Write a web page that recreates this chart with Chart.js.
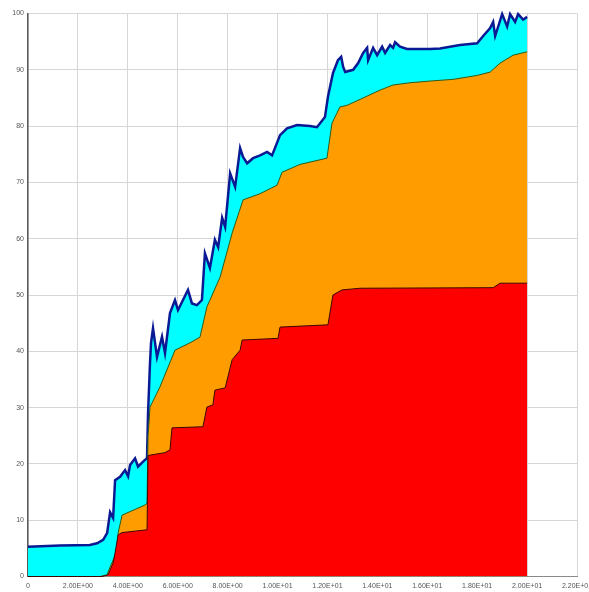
<!DOCTYPE html>
<html>
<head>
<meta charset="utf-8">
<script src="https://cdn.jsdelivr.net/npm/chart.js@4"></script>
<style>
  html, body { margin: 0; padding: 0; background: #fff; }
  #wrap { width: 589px; height: 592px; }
</style>
</head>
<body>
<div id="wrap"><canvas id="chart"></canvas></div>
<script>
// axis ticks
const xTicks = [0, 2, 4, 6, 8, 10, 12, 14, 16, 18, 20, 22]
const yTicks = [0, 10, 20, 30, 40, 50, 60, 70, 80, 90, 100]

// top series (cyan band, dark blue outline) - cumulative upper edge
const topX = [0, 1.28, 2.48, 2.77, 3.01, 3.17, 3.29, 3.41, 3.49, 3.69, 3.89, 4.01, 4.09, 4.29, 4.41, 4.61, 4.77,
  4.81, 4.89, 4.93, 5.01, 5.17, 5.37, 5.49, 5.69, 5.89, 6.01, 6.21, 6.41, 6.57, 6.77, 6.97, 7.09, 7.29, 7.49,
  7.62, 7.78, 7.9, 8.1, 8.3, 8.5, 8.62, 8.78, 9.02, 9.3, 9.58, 9.78, 10.1, 10.38, 10.78, 11.3, 11.58, 11.9,
  12.02, 12.22, 12.42, 12.55, 12.63, 12.71, 13.03, 13.23, 13.43, 13.59, 13.63, 13.83, 13.99, 14.19, 14.31,
  14.51, 14.63, 14.71, 14.91, 15.19, 16.11, 16.51, 17.31, 18.0, 18.24, 18.52, 18.64, 18.72, 19.0, 19.2,
  19.32, 19.52, 19.64, 19.84, 20]
const topY = [5.3, 5.5, 5.6, 5.9, 6.5, 7.7, 11.4, 10.4, 17.1, 17.7, 18.9, 17.8, 19.8, 21, 19.5, 20.4, 21,
  29, 38, 41.5, 44.1, 39, 42.6, 39.7, 46.8, 49.1, 47.3, 49.1, 50.9, 48.5, 48.2, 49.1, 57.4, 54.8, 59.8,
  58.5, 63.7, 62.1, 71.6, 69.2, 76.1, 74.5, 73.4, 74.3, 74.8, 75.4, 74.8, 78.4, 79.6, 80.2, 80, 79.8, 81.6,
  85.2, 89.4, 91.7, 92.3, 90.5, 89.6, 90, 91.2, 93, 93.9, 91.7, 93.9, 92.6, 94.1, 93,
  94.4, 93.9, 94.9, 94.1, 93.7, 93.7, 93.8, 94.4, 94.7, 96, 97.4, 98.5, 96, 99.9, 97.7,
  99.9, 98.5, 99.9, 98.9, 99.4]

// middle series (orange band) - cumulative upper edge
const midX = [0, 2.89, 3.17, 3.29, 3.41, 3.57, 3.61, 3.77, 4.69, 4.77, 4.81, 4.89, 5.29, 5.89, 6.49, 6.89,
  7.17, 7.7, 8.18, 8.62, 9.3, 9.98, 10.18, 10.9, 11.98, 12.18, 12.5, 12.79, 13.43, 14.11, 14.63, 15.31,
  16.11, 17.03, 18.0, 18.52, 18.92, 19.44, 20]
const midY = [0, 0, 0.3, 1.7, 2.9, 4.7, 7.7, 10.9, 12.7, 13, 25, 30.1, 33.7, 40.2, 41.5, 42.5,
  47.9, 53.2, 61, 66.9, 68, 69.5, 71.8, 73.2, 74.3, 80.5, 83.4, 83.7, 85, 86.4, 87.3, 87.7,
  88, 88.3, 89, 89.6, 91.2, 92.6, 93.2]

// bottom series (red band)
const lowX = [0, 2.97, 3.21, 3.41, 3.49, 3.61, 3.77, 4.77, 4.81, 5.49, 5.69, 5.77, 7.01, 7.17, 7.41, 7.49,
  7.9, 8.18, 8.5, 8.58, 10.02, 10.1, 12.02, 12.22, 12.58, 13.31, 18.64, 18.92, 20]
const lowY = [0, 0, 0.3, 2.4, 4.2, 7.4, 7.8, 8.3, 21.5, 22, 22.5, 26.4, 26.6, 30.1, 30.5, 33.1,
  33.5, 38.5, 40.2, 42, 42.3, 44.3, 44.7, 50, 50.9, 51.2, 51.3, 52.1, 52.1]

function pts(xs, ys) {
  return xs.map((x, i) => ({ x: x, y: ys[i] }))
}

function sci(v) {
  if (v === 0) return "0"
  const parts = v.toExponential(2).split("e")
  const n = parseInt(parts[1], 10)
  return parts[0] + "E" + (n < 0 ? "-" : "+") + String(Math.abs(n)).padStart(2, "0")
}

const tickFont = { family: "Liberation Sans", size: 7 }

new Chart(document.getElementById("chart"), {
  type: "line",
  data: {
    datasets: [
      {
        data: pts(lowX, lowY),
        fill: "origin",
        backgroundColor: "#FF0000",
        borderColor: "#3a0800",
        borderWidth: 1,
      },
      {
        data: pts(midX, midY),
        fill: "origin",
        backgroundColor: "#FF9C00",
        borderColor: "#2f5a1a",
        borderWidth: 1,
      },
      {
        data: pts(topX, topY),
        fill: "origin",
        backgroundColor: "#00FFFF",
        borderColor: "#0a1a94",
        borderWidth: 2.5,
      },
    ],
  },
  options: {
    responsive: true,
    maintainAspectRatio: false,
    animation: false,
    layout: { padding: { top: 13.5, right: 12, left: 0, bottom: 0 } },
    elements: {
      point: { radius: 0, hoverRadius: 0 },
      line: { tension: 0, borderJoinStyle: "miter" },
    },
    datasets: { line: { clip: 4 } },
    plugins: { legend: false, tooltip: { enabled: false } },
    scales: {
      x: {
        type: "linear",
        min: 0,
        max: 22,
        afterBuildTicks: (s) => { s.ticks = xTicks.map((v) => ({ value: v })) },
        afterFit: (s) => { s.height = 15.5; s.paddingLeft = 0; s.paddingRight = 0 },
        ticks: {
          autoSkip: false,
          maxRotation: 0,
          padding: 5,
          color: "#555",
          font: tickFont,
          callback: (v) => sci(v),
        },
        grid: { color: "#d6d6d6", drawTicks: false },
        border: { color: "#8a8a8a", width: 1 },
      },
      y: {
        min: 0,
        max: 100,
        afterBuildTicks: (s) => { s.ticks = yTicks.map((v) => ({ value: v })) },
        afterFit: (s) => { s.width = 28 },
        ticks: {
          padding: 4,
          color: "#555",
          font: tickFont,
        },
        grid: { color: "#d6d6d6", drawTicks: false },
        border: { color: "#5a5a5a", width: 1.5 },
      },
    },
  },
})
</script>
</body>
</html>
